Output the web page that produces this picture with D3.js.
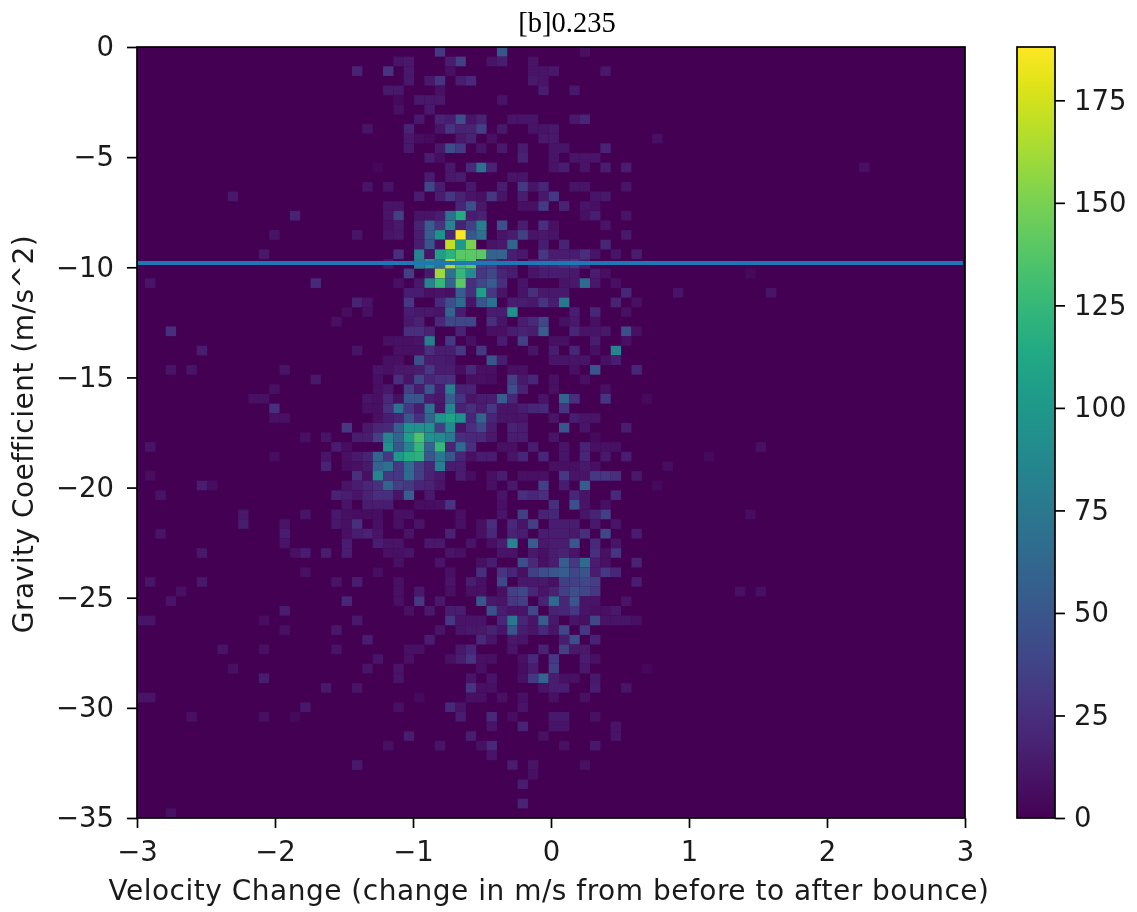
<!DOCTYPE html>
<html lang="en">
  <head>
    <meta charset="UTF-8" />
    <title>Gravity coefficient vs velocity change</title>
    <style>
      body { margin: 0; background: #fff; }
      svg { display: block; filter: blur(0.7px); }
      text { font-family: "DejaVu Sans", sans-serif; fill: #1a1a1a; }
      .axis line { stroke: #000; stroke-width: 1.7; }
      .axis text { font-size: 27.5px; }
      .axis path { display: none; }
      .label { font-size: 28px; letter-spacing: 0.5px; }
      .title { font-family: "Liberation Serif", serif; font-size: 28.5px; fill: #000; }
    </style>
  </head>

  <body>
    <script src="https://cdnjs.cloudflare.com/ajax/libs/d3/7.8.5/d3.min.js"></script>

    <script>
    var titleText = "[b]0.235";
    var xLabel = "Velocity Change (change in m/s from before to after bounce)";
    var yLabel = "Gravity Coefficient (m/s^2)";

    var xTicks = [-3, -2, -1, 0, 1, 2, 3];
    var yTicks = [0, -5, -10, -15, -20, -25, -30, -35];
    var barTicks = [0, 25, 50, 75, 100, 125, 150, 175];

    var xDomain = [-3, 3];
    var yDomain = [0, -35];
    var maxCount = 188;
    var binCount = 80;
    // the histogram's first bin starts a little left of the axis
    var histLeft = -3.017;
    var gravityX = [-3, 2.985];
    var gravityY = -9.8;

    // counts, row (from the top) -> {column: count}
    var countsByRow = {
      0: {29:30, 35:50, 43:8},
      1: {25:10, 26:12, 30:15, 31:35, 34:10, 35:15, 38:10},
      2: {21:18, 24:28, 26:12, 30:8, 38:10, 39:10, 40:12, 45:12},
      3: {26:12, 28:12, 29:28, 31:15, 32:22, 38:12, 39:10},
      4: {24:12, 25:12, 29:8, 39:15, 42:12},
      5: {25:5, 27:12, 28:12, 29:12, 35:10},
      6: {25:8, 28:12},
      7: {27:12, 29:18, 30:15, 31:45, 32:10, 33:18, 36:10, 37:10, 38:10, 42:12, 43:20},
      8: {22:10, 26:18, 29:10, 30:28, 31:18, 32:18, 33:35, 35:12, 38:10, 39:10, 40:12},
      9: {26:12, 27:6, 28:5, 31:12, 32:18, 34:8, 39:12, 40:12, 50:8},
      10: {26:12, 29:12, 30:45, 31:32, 33:10, 35:12, 37:15, 40:10, 41:10, 45:18},
      11: {28:15, 29:6, 37:18, 40:10, 42:10, 43:10, 44:10},
      12: {23:3, 30:12, 32:22, 33:70, 34:18, 40:10, 41:15, 43:10, 45:15, 47:15, 70:8},
      13: {28:14, 30:12, 31:14, 36:10, 37:10},
      14: {22:10, 24:10, 28:40, 29:14, 32:12, 35:15, 37:30, 38:10, 39:20, 42:10, 43:10, 47:10},
      15: {9:12, 27:14, 29:14, 30:30, 31:18, 32:10, 33:8, 34:30, 35:10, 37:14, 39:12, 40:30, 44:10, 45:12},
      16: {24:10, 25:10, 31:20, 32:45, 33:12, 37:8, 38:8, 39:32, 41:18, 43:10, 44:8},
      17: {15:18, 24:10, 25:35, 27:10, 28:10, 29:14, 30:70, 31:115, 32:14, 33:18, 43:8, 44:15, 47:10},
      18: {24:8, 25:12, 27:18, 28:55, 29:28, 30:85, 31:18, 32:35, 33:80, 35:45, 37:15, 39:25, 40:8, 45:10},
      19: {13:10, 21:10, 24:10, 25:12, 27:15, 28:55, 29:95, 30:20, 31:187, 32:50, 33:70, 35:10, 36:15, 37:35, 38:10, 39:12, 40:10, 47:12},
      20: {27:15, 28:50, 29:8, 30:170, 31:100, 32:150, 34:10, 35:12, 36:60, 39:14, 41:18, 45:20},
      21: {12:12, 25:25, 27:85, 28:10, 29:105, 30:120, 31:140, 32:140, 33:140, 34:60, 35:60, 36:15, 37:12, 39:30, 40:15, 41:14, 42:14, 43:25, 44:10, 46:10, 48:15},
      22: {24:10, 27:80, 28:100, 29:70, 30:165, 31:130, 32:140, 33:35, 34:35, 35:15, 36:15, 38:15, 39:20, 40:20, 41:25, 42:30, 43:15},
      23: {26:35, 28:12, 29:160, 30:70, 31:125, 32:90, 33:30, 34:40, 35:20, 36:15, 38:10, 39:14, 40:14, 41:14, 42:12, 44:14, 45:8, 59:5},
      24: {1:10, 17:22, 25:8, 27:12, 28:85, 29:125, 30:60, 31:140, 32:25, 33:40, 34:55, 35:25, 37:10, 41:10, 42:12, 43:65, 44:12, 46:8},
      25: {26:15, 27:15, 28:8, 29:10, 30:8, 31:55, 32:25, 33:105, 34:30, 35:10, 37:10, 38:25, 39:12, 40:12, 41:12, 47:20, 52:10, 61:10},
      26: {21:18, 22:10, 26:30, 29:22, 30:45, 31:65, 32:10, 33:50, 34:70, 36:14, 37:14, 38:12, 39:28, 40:14, 41:75, 46:18, 48:8},
      27: {20:6, 22:8, 26:14, 27:12, 28:12, 29:10, 30:60, 31:15, 34:14, 35:14, 36:95, 42:14, 44:20, 47:8},
      28: {19:8, 26:12, 27:18, 29:22, 30:40, 31:40, 32:40, 34:25, 35:10, 37:14, 38:22, 39:40, 41:8, 42:12, 44:8},
      29: {3:25, 26:25, 27:25, 28:18, 31:18, 34:8, 35:8, 36:14, 37:18, 38:14, 39:55, 42:20, 43:10, 44:10, 45:12, 47:45, 48:8},
      30: {24:8, 25:8, 26:8, 27:10, 28:80, 30:30, 32:8, 35:14, 37:35, 40:8, 41:8, 44:14, 47:8},
      31: {6:14, 21:10, 25:8, 26:8, 27:8, 28:25, 29:14, 30:14, 31:30, 33:30, 38:10, 40:14, 42:20, 44:8, 46:85},
      32: {24:8, 25:8, 27:45, 28:14, 29:14, 30:12, 34:50, 35:14, 40:10, 41:10, 42:10, 43:10, 45:8, 46:14},
      33: {3:10, 5:10, 14:10, 23:10, 24:8, 25:12, 26:12, 27:14, 28:30, 29:14, 30:14, 31:6, 32:22, 33:8, 34:8, 36:8, 37:8, 42:8, 44:50, 48:20},
      34: {17:12, 23:8, 25:25, 26:10, 27:40, 28:20, 29:25, 30:25, 32:8, 33:8, 34:6, 36:35, 37:12, 38:20, 40:8, 43:8},
      35: {13:8, 23:8, 24:12, 26:35, 27:14, 28:50, 29:14, 30:80, 31:18, 32:18, 36:45, 37:18, 40:8, 45:8},
      36: {11:8, 12:8, 22:10, 23:8, 24:22, 25:8, 26:50, 27:50, 28:14, 29:12, 30:55, 31:28, 32:10, 33:14, 34:14, 35:55, 36:20, 39:10, 41:60, 42:25, 45:28, 49:5},
      37: {13:25, 22:8, 23:8, 24:25, 25:70, 26:30, 27:15, 28:70, 29:10, 30:85, 31:18, 32:25, 33:14, 34:30, 35:10, 36:10, 37:14, 38:20, 39:22, 41:28},
      38: {13:8, 14:8, 23:8, 24:15, 25:20, 26:50, 27:25, 28:60, 29:100, 30:110, 31:95, 32:20, 33:60, 34:20, 35:10, 36:10, 37:10, 40:10, 42:14, 43:10, 44:10},
      39: {20:30, 22:12, 23:20, 24:22, 25:55, 26:95, 27:95, 28:95, 29:35, 30:90, 31:10, 32:25, 33:40, 34:14, 36:18, 37:14, 41:50, 43:10, 47:14},
      40: {16:8, 18:10, 21:14, 22:14, 23:35, 24:85, 25:60, 26:105, 27:135, 28:95, 29:90, 30:75, 31:25, 32:22, 33:22, 34:12, 36:14, 37:14, 40:10, 44:5},
      41: {1:10, 19:14, 20:6, 24:95, 25:50, 26:85, 27:125, 28:60, 29:125, 30:20, 31:65, 32:25, 35:8, 36:8, 38:14, 41:10, 43:18, 44:8, 45:8, 46:8, 60:8},
      42: {13:6, 18:10, 20:8, 21:12, 22:18, 23:60, 24:30, 25:100, 26:115, 27:120, 28:50, 29:75, 30:50, 31:20, 32:8, 33:14, 34:14, 36:10, 37:20, 39:20, 41:10, 43:20, 45:12, 47:14, 55:5},
      43: {18:18, 20:6, 21:8, 22:12, 23:60, 24:70, 25:30, 26:65, 27:35, 28:20, 29:80, 30:15, 31:14, 40:8, 41:8, 42:8, 43:12, 44:8, 51:6},
      44: {1:6, 21:25, 22:8, 23:85, 24:30, 25:30, 26:65, 27:35, 28:18, 29:12, 31:14, 32:6, 34:8, 35:14, 37:8, 38:8, 39:8, 41:30, 42:10, 43:10, 44:30, 45:30, 46:25, 48:12},
      45: {6:14, 7:6, 20:10, 21:14, 22:20, 23:25, 24:60, 25:35, 26:30, 27:20, 28:18, 29:10, 34:8, 36:12, 39:35, 41:14, 43:55, 50:5},
      46: {2:10, 19:18, 20:14, 21:10, 22:18, 23:25, 24:25, 25:10, 26:55, 28:12, 35:10, 37:25, 38:20, 39:25, 42:20, 43:10, 46:22},
      47: {20:10, 22:15, 23:14, 24:14, 27:6, 28:6, 29:8, 30:28, 35:8, 40:25, 42:45, 43:10, 45:8},
      48: {10:12, 16:10, 19:12, 20:8, 21:6, 22:6, 23:6, 25:8, 26:8, 31:8, 35:10, 37:35, 39:18, 40:20, 43:10, 44:18, 45:35, 59:6},
      49: {10:14, 14:10, 19:12, 20:8, 21:25, 23:8, 25:8, 27:10, 31:8, 33:8, 34:25, 36:22, 37:10, 38:35, 40:14, 41:14, 42:14, 44:12, 46:10},
      50: {2:10, 14:14, 20:8, 21:14, 22:18, 23:10, 26:10, 30:18, 33:8, 34:22, 36:18, 37:14, 39:14, 40:14, 41:14, 42:12, 43:25, 45:40, 48:14},
      51: {14:10, 20:14, 23:14, 24:10, 25:10, 28:12, 29:12, 32:10, 34:8, 35:14, 36:85, 38:55, 39:12, 40:15, 41:15, 42:50, 44:22, 46:10},
      52: {6:12, 15:8, 16:14, 18:14, 20:14, 24:8, 25:8, 26:10, 30:10, 31:8, 35:10, 36:10, 38:12, 39:8, 40:14, 41:18, 42:10, 44:25, 45:8, 46:28},
      53: {25:8, 29:10, 33:8, 34:14, 37:45, 38:22, 39:8, 40:14, 41:55, 42:30, 43:65, 44:14, 45:8, 48:18},
      54: {16:8, 23:6, 30:8, 33:25, 35:28, 36:20, 37:8, 38:35, 39:45, 40:50, 41:55, 42:40, 43:50, 44:14, 45:30, 46:20},
      55: {1:10, 6:12, 19:10, 21:15, 25:8, 30:10, 32:14, 33:8, 35:40, 37:12, 38:12, 39:12, 40:8, 41:35, 42:35, 43:40, 44:35, 48:14},
      56: {4:8, 25:8, 27:12, 30:8, 32:8, 33:8, 35:8, 36:35, 37:40, 38:20, 39:10, 40:18, 41:35, 42:45, 43:40, 44:30, 58:8, 60:8},
      57: {3:10, 20:20, 25:8, 27:30, 29:12, 33:50, 34:12, 35:10, 36:30, 37:35, 39:18, 40:65, 41:20, 42:50, 43:10, 44:10, 47:10},
      58: {14:14, 26:8, 28:12, 30:14, 31:14, 34:45, 35:14, 36:10, 37:10, 38:40, 40:18, 41:20, 42:30, 43:10, 44:8, 45:8, 46:12},
      59: {0:10, 1:10, 12:6, 21:12, 30:30, 31:10, 32:10, 33:10, 35:20, 36:75, 37:20, 38:10, 39:55, 40:12, 42:10, 43:8, 44:40, 45:10, 46:10, 47:10, 48:8},
      60: {14:8, 19:12, 29:10, 31:10, 32:12, 33:12, 34:18, 35:10, 36:50, 37:15, 38:10, 39:22, 40:10, 41:40, 43:30},
      61: {22:14, 28:14, 33:22, 34:10, 36:12, 37:10, 41:14, 42:45, 44:18},
      62: {8:10, 12:8, 19:10, 26:8, 27:8, 31:12, 32:20, 36:10, 39:18, 41:35, 42:12, 43:12},
      63: {23:10, 26:8, 30:8, 31:14, 32:28, 33:8, 34:8, 37:8, 38:22, 40:30, 43:14, 44:8},
      64: {9:8, 22:10, 25:10, 33:8, 37:6, 38:14, 40:35, 43:12, 49:4},
      65: {12:14, 25:10, 32:10, 34:10, 37:8, 38:30, 39:60, 40:14, 41:8, 42:8, 44:12},
      66: {18:12, 21:10, 32:28, 33:8, 34:8, 39:10, 40:14, 41:14, 44:14, 47:10},
      67: {0:10, 1:10, 27:5, 32:8, 33:8, 35:8, 37:8, 40:8, 43:8},
      68: {16:12, 25:8, 30:22, 31:10, 37:10},
      69: {5:8, 12:8, 15:5, 31:14, 34:22, 36:6, 40:12, 41:12, 44:8},
      70: {34:10, 37:18, 40:10, 41:10, 46:10},
      71: {26:14, 32:14, 39:8, 46:10},
      72: {24:8, 29:10, 33:8, 34:22, 41:8, 44:12},
      73: {34:10},
      74: {21:12, 36:14, 38:10, 43:8},
      75: {38:8},
      76: {37:14},
      78: {37:18},
      79: {3:8}
    };

    var width = 1137;
    var height = 912;
    var margin = {top: 47, right: 172, bottom: 94, left: 137};
    var plotW = width - margin.left - margin.right;
    var plotH = height - margin.top - margin.bottom;
    var barX = 1017;
    var barW = 38;

    var svg = d3.select("body")
                .append("svg")
                .attr("width", width)
                .attr("height", height);

    var xScale = d3.scaleLinear().domain(xDomain).range([margin.left, margin.left + plotW]);
    var yScale = d3.scaleLinear().domain(yDomain).range([margin.top, margin.top + plotH]);
    var colorScale = d3.scaleSequential(d3.interpolateViridis).domain([0, maxCount]);
    var barScale = d3.scaleLinear().domain([0, maxCount]).range([margin.top + plotH, margin.top]);

    var colStep = (xDomain[1] - xDomain[0]) / binCount;
    var rowStep = (yDomain[1] - yDomain[0]) / binCount;

    var cells = [];
    Object.keys(countsByRow).forEach(function(row) {
      Object.keys(countsByRow[row]).forEach(function(col) {
        cells.push({row: +row, col: +col, count: countsByRow[row][col]});
      });
    });

    var defs = svg.append("defs");
    defs.append("clipPath")
        .attr("id", "plot-clip")
        .append("rect")
        .attr("x", margin.left)
        .attr("y", margin.top)
        .attr("width", plotW)
        .attr("height", plotH);

    var gradient = defs.append("linearGradient")
                       .attr("id", "bar-gradient")
                       .attr("x1", 0).attr("x2", 0)
                       .attr("y1", 1).attr("y2", 0);
    d3.range(0, 1.01, 0.05).forEach(function(t) {
      gradient.append("stop")
              .attr("offset", t)
              .attr("stop-color", d3.interpolateViridis(t));
    });

    // empty bins are just the zero colour behind everything
    svg.append("rect")
       .attr("x", margin.left)
       .attr("y", margin.top)
       .attr("width", plotW)
       .attr("height", plotH)
       .attr("fill", colorScale(0));

    svg.append("g")
       .attr("clip-path", "url(#plot-clip)")
       .selectAll("rect")
       .data(cells)
       .enter().append("rect")
       .attr("x", function(d) { return xScale(histLeft + d.col * colStep); })
       .attr("y", function(d) { return yScale(yDomain[0] + d.row * rowStep); })
       .attr("width", xScale(xDomain[0] + colStep) - xScale(xDomain[0]))
       .attr("height", yScale(yDomain[0] + rowStep) - yScale(yDomain[0]))
       .attr("fill", function(d) { return colorScale(d.count); });

    svg.append("line")
       .attr("x1", xScale(gravityX[0]))
       .attr("x2", xScale(gravityX[1]))
       .attr("y1", yScale(gravityY))
       .attr("y2", yScale(gravityY))
       .attr("stroke", "#1f77b4")
       .attr("stroke-width", 4);

    svg.append("rect")
       .attr("x", margin.left)
       .attr("y", margin.top)
       .attr("width", plotW)
       .attr("height", plotH)
       .attr("fill", "none")
       .attr("stroke", "#000")
       .attr("stroke-width", 1.7);

    var minusFormat = function(d) { return String(d).replace("-", "\u2212"); };

    var xAxis = d3.axisBottom(xScale).tickValues(xTicks).tickFormat(minusFormat).tickSize(10).tickPadding(13).tickSizeOuter(0);
    svg.append("g")
       .attr("class", "axis")
       .attr("transform", "translate(0," + (margin.top + plotH) + ")")
       .call(xAxis);

    var yAxis = d3.axisLeft(yScale).tickValues(yTicks).tickFormat(minusFormat).tickSize(10).tickPadding(13).tickSizeOuter(0);
    svg.append("g")
       .attr("class", "axis")
       .attr("transform", "translate(" + margin.left + ",0)")
       .call(yAxis);

    // colorbar
    svg.append("rect")
       .attr("x", barX)
       .attr("y", margin.top)
       .attr("width", barW)
       .attr("height", plotH)
       .attr("fill", "url(#bar-gradient)")
       .attr("stroke", "#000")
       .attr("stroke-width", 1.7);

    var barAxis = d3.axisRight(barScale).tickValues(barTicks).tickSize(10).tickPadding(9).tickSizeOuter(0);
    svg.append("g")
       .attr("class", "axis")
       .attr("transform", "translate(" + (barX + barW) + ",0)")
       .call(barAxis);

    svg.append("text")
       .attr("class", "title")
       .attr("x", 567)
       .attr("y", 32)
       .attr("text-anchor", "middle")
       .text(titleText);

    svg.append("text")
       .attr("class", "label")
       .attr("x", 549)
       .attr("y", 900)
       .attr("text-anchor", "middle")
       .text(xLabel);

    svg.append("text")
       .attr("class", "label")
       .attr("transform", "translate(33,434) rotate(-90)")
       .attr("text-anchor", "middle")
       .text(yLabel);
    </script>
  </body>
</html>
